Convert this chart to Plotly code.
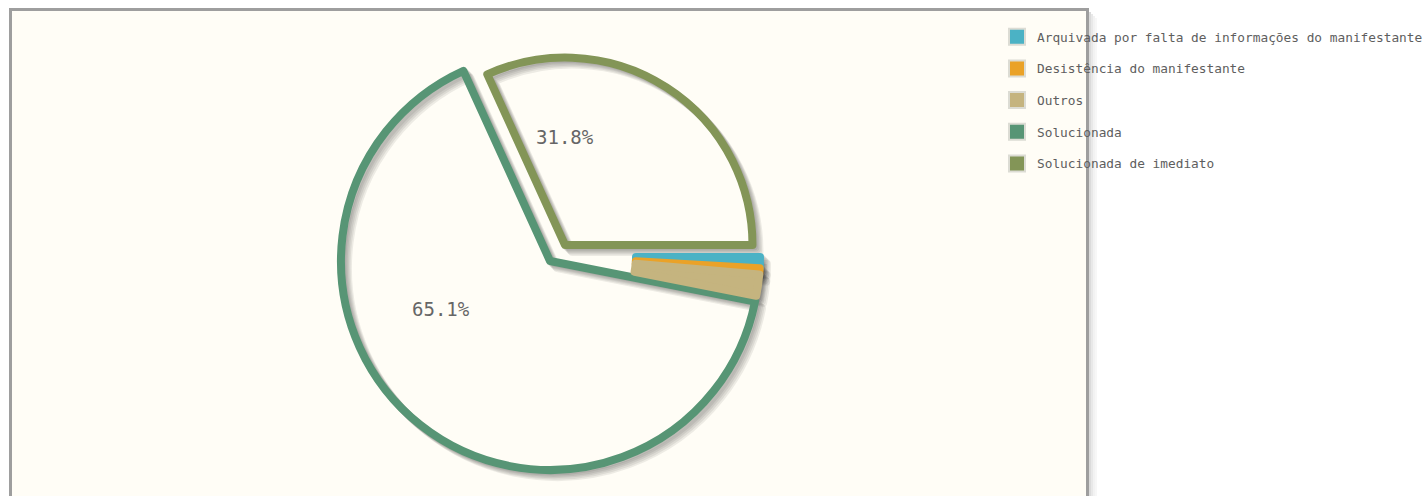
import plotly.graph_objects as go

# ---------------- data ----------------
labels = [
    "Arquivada por falta de informações do manifestante",
    "Desistência do manifestante",
    "Outros",
    "Solucionada",
    "Solucionada de imediato",
]
values = [0.9, 0.5, 1.7, 65.1, 31.8]
colors = ["#4bb2c5", "#EAA228", "#c5b47f", "#579575", "#839557"]

# ---------------- layout / style ----------------
W, H = 1428, 496
LINE_W = 8
FONT = "DejaVu Sans Mono"
TRANSPARENT = "rgba(0,0,0,0)"

# each group of slices is drawn by its own pie (hollow slices, jqPlot-like look)
groups = [
    dict(idx=[3], cx=550, cy=261, r=209, hole=0.0, fill=False),
    dict(idx=[4], cx=565, cy=245, r=187.5, hole=0.0, fill=False),
    dict(idx=[0, 1, 2], cx=560, cy=257, r=200, hole=0.38, fill=True),
]
# where the percentage labels sit (pixel centres)
label_pos = {"Solucionada": (441, 309), "Solucionada de imediato": (565, 137)}


def px(x):
    return x / W


def py(y):
    return 1 - y / H


def make_pie(g, dx=0.0, dy=0.0, shadow=False):
    line_cols, fill_cols = [], []
    for i in range(len(values)):
        if i in g["idx"]:
            lc = "rgba(0,0,0,0.07)" if shadow else colors[i]
            line_cols.append(lc)
            fill_cols.append(lc if g["fill"] else TRANSPARENT)
        else:
            line_cols.append(TRANSPARENT)
            fill_cols.append(TRANSPARENT)
    cx, cy, r = g["cx"] + dx, g["cy"] + dy, g["r"]
    return go.Pie(
        labels=labels,
        values=values,
        sort=False,
        direction="clockwise",
        rotation=90,
        hole=g["hole"],
        marker=dict(colors=fill_cols, line=dict(color=line_cols, width=LINE_W)),
        textinfo="none",
        hoverinfo="skip",
        showlegend=False,
        domain=dict(x=[px(cx - r), px(cx + r)], y=[py(cy + r), py(cy - r)]),
    )


fig = go.Figure()

# shadows first (offset down-right, several faint layers)
for g in groups:
    for j in range(1, 6):
        fig.add_trace(make_pie(g, dx=1.4 * j, dy=1.4 * j, shadow=True))
for g in groups:
    fig.add_trace(make_pie(g))

# legend entries
for lab, col in zip(labels, colors):
    fig.add_trace(
        go.Scatter(
            x=[None], y=[None], mode="markers", name=lab, legendgroup=lab,
            marker=dict(symbol="square", size=16, color=col,
                        line=dict(color="#dcdcd4", width=2)),
            hoverinfo="skip",
        )
    )

total = sum(values)
annotations = []
for lab, v in zip(labels, values):
    if lab in label_pos:
        x, y = label_pos[lab]
        annotations.append(dict(
            x=px(x), y=py(y), xref="paper", yref="paper",
            text=f"{v / total * 100:.1f}%", showarrow=False,
            xanchor="center", yanchor="middle",
            font=dict(family=FONT, size=19, color="#666666"),
        ))

shapes = [
    # plot frame
    dict(type="rect", xref="paper", yref="paper", layer="below",
         x0=px(10.5), x1=px(1087.5), y0=py(620), y1=py(9.5),
         fillcolor="#fffdf6", line=dict(color="#9e9e9e", width=3)),
]
for k, a in enumerate([0.14, 0.09, 0.05, 0.03]):
    xx = 1090 + 2 * k
    shapes.append(dict(type="line", xref="paper", yref="paper", layer="below",
                       x0=px(xx), x1=px(xx), y0=py(12 + 2 * k), y1=py(620),
                       line=dict(color=f"rgba(0,0,0,{a})", width=2)))

fig.update_layout(
    width=W, height=H,
    margin=dict(l=0, r=0, t=0, b=0),
    paper_bgcolor="white",
    plot_bgcolor=TRANSPARENT,
    xaxis=dict(visible=False, range=[0, 1]),
    yaxis=dict(visible=False, range=[0, 1]),
    shapes=shapes,
    annotations=annotations,
    legend=dict(
        x=px(997), y=py(22), xanchor="left", yanchor="top",
        bgcolor=TRANSPARENT, borderwidth=0,
        font=dict(family=FONT, size=12.8, color="#5e5e5e"),
        tracegroupgap=12, itemclick=False, itemdoubleclick=False,
    ),
    hovermode=False,
)

fig.write_html(
    "out.html",
    config={"displayModeBar": False},
    post_script="document.body.style.margin='0px';document.body.style.overflow='hidden';",
)
